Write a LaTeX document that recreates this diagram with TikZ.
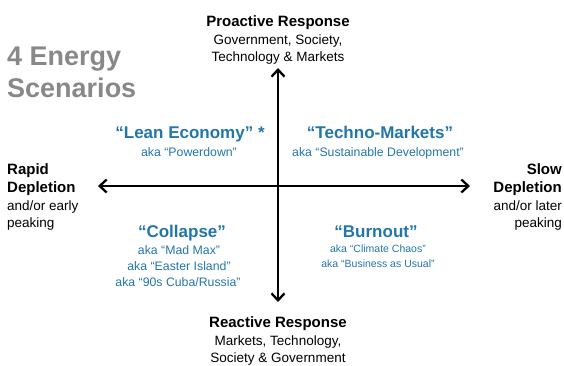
\documentclass[tikz,border=0pt]{standalone}
\usepackage{fontspec}
\setmainfont{Liberation Sans}
\usetikzlibrary{arrows.meta}
\definecolor{scenblue}{RGB}{34,118,170}
\definecolor{titlegray}{RGB}{136,136,136}
\begin{document}
\begin{tikzpicture}[x=1pt,y=-1pt,
  axisline/.style={line width=2.3pt,black,{Straight Barb[length=7pt,width=13pt]}-{Straight Barb[length=7pt,width=13pt]}},
  headbold/.style={font=\fontsize{15}{17}\selectfont\bfseries,text=black,inner sep=0pt},
  headreg/.style={font=\fontsize{13.5}{16}\selectfont,text=black,inner sep=0pt},
  scentitle/.style={font=\fontsize{17}{19}\selectfont\bfseries,text=scenblue,inner sep=0pt},
  scenaka/.style={font=\fontsize{12.3}{14}\selectfont,text=scenblue,inner sep=0pt},
  scenakasmall/.style={font=\fontsize{10.5}{12}\selectfont,text=scenblue,inner sep=0pt},
  bigtitle/.style={font=\fontsize{27}{30}\selectfont\bfseries,text=titlegray,inner sep=0pt,anchor=mid west}]
\useasboundingbox (0,0) rectangle (564,365);
% axes
\coordinate (T) at (278,68);
\coordinate (B) at (278,302);
\coordinate (L) at (98,186);
\coordinate (R) at (470,186);
\draw[axisline] (L) -- (R);
\draw[axisline] (B) -- (T);
% title
\node[bigtitle] (t1) at (7,63) {4 Energy};
\node[bigtitle] (t2) at (7,95) {Scenarios};
% top
\node[headbold,anchor=mid] (p1) at (278,24) {Proactive Response};
\node[headreg,anchor=mid] (p2) at (278,42) {Government, Society,};
\node[headreg,anchor=mid] (p3) at (278,59) {Technology \& Markets};
% bottom
\node[headbold,anchor=mid] (r1) at (278,325) {Reactive Response};
\node[headreg,anchor=mid] (r2) at (278,343) {Markets, Technology,};
\node[headreg,anchor=mid] (r3) at (278,360) {Society \& Government};
% left
\node[headbold,anchor=mid west] (l1) at (7,172) {Rapid};
\node[headbold,anchor=mid west] (l2) at (7,190) {Depletion};
\node[headreg,anchor=mid west] (l3) at (7,208) {and/or early};
\node[headreg,anchor=mid west] (l4) at (7,225) {peaking};
% right
\node[headbold,anchor=mid east] (s1) at (562,172) {Slow};
\node[headbold,anchor=mid east] (s2) at (562,190) {Depletion};
\node[headreg,anchor=mid east] (s3) at (562,208) {and/or later};
\node[headreg,anchor=mid east] (s4) at (562,225) {peaking};
% quadrants
\node[scentitle,anchor=mid] (q1) at (190,136) {“Lean Economy” *};
\node[scenaka,anchor=mid] (q1a) at (189,154) {aka “Powerdown”};
\node[scentitle,anchor=mid] (q2) at (380,136) {“Techno-Markets”};
\node[scenaka,anchor=mid] (q2a) at (378,154) {aka “Sustainable Development”};
\node[scentitle,anchor=mid] (q3) at (182,235) {“Collapse”};
\node[scenaka,anchor=mid] (q3a) at (179,252) {aka “Mad Max”};
\node[scenaka,anchor=mid] (q3b) at (179,268) {aka “Easter Island”};
\node[scenaka,anchor=mid] (q3c) at (178,284) {aka “90s Cuba/Russia”};
\node[scentitle,anchor=mid] (q4) at (376,235) {“Burnout”};
\node[scenakasmall,anchor=mid] (q4a) at (378,250) {aka “Climate Chaos”};
\node[scenakasmall,anchor=mid] (q4b) at (378,265) {aka “Business as Usual”};
\end{tikzpicture}
\end{document}
